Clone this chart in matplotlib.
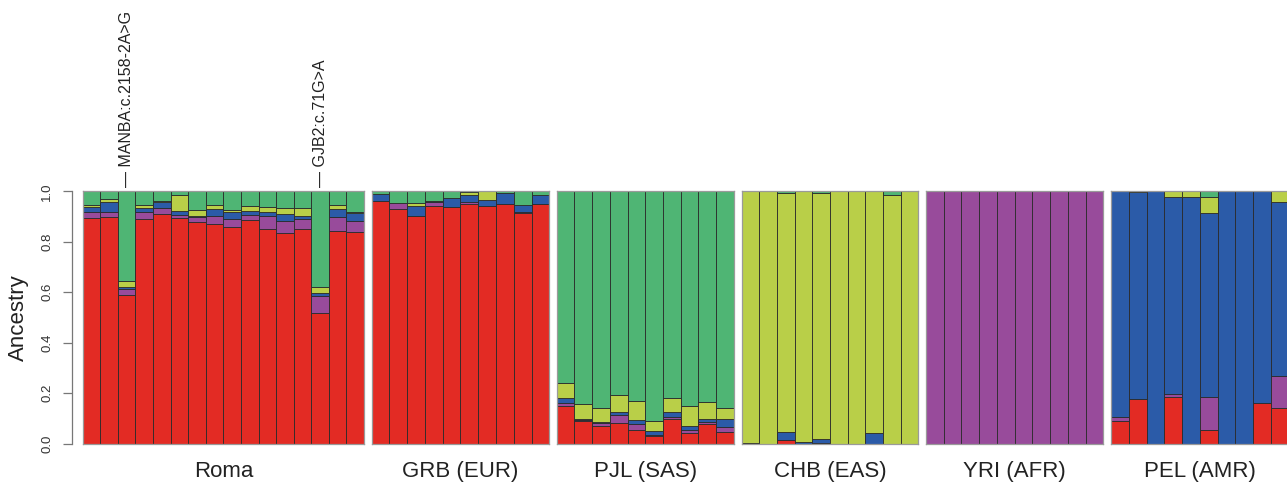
import matplotlib
matplotlib.use("Agg")
import matplotlib.pyplot as plt

plt.rcParams['font.family'] = ['Liberation Sans', 'DejaVu Sans']

# ancestry components, bottom to top
comp_colors = ['#E32B24', '#984B9B', '#2B5BA8', '#B9CF48', '#4FB574']

# cumulative tops of red, purple, blue, yellow; green fills up to 1.0
roma = [
    [0.893, 0.918, 0.937, 0.947],
    [0.897, 0.919, 0.959, 0.970],
    [0.590, 0.612, 0.622, 0.643],
    [0.890, 0.918, 0.933, 0.947],
    [0.909, 0.934, 0.956, 0.960],
    [0.896, 0.907, 0.922, 0.985],
    [0.877, 0.898, 0.901, 0.925],
    [0.872, 0.902, 0.931, 0.945],
    [0.857, 0.892, 0.919, 0.926],
    [0.885, 0.905, 0.923, 0.942],
    [0.849, 0.904, 0.918, 0.939],
    [0.836, 0.881, 0.909, 0.934],
    [0.849, 0.892, 0.904, 0.935],
    [0.517, 0.587, 0.596, 0.622],
    [0.843, 0.900, 0.929, 0.946],
    [0.839, 0.884, 0.915, 0.918],
]
grb = [
    [0.963, 0.963, 0.989, 0.989],
    [0.929, 0.952, 0.952, 0.952],
    [0.902, 0.902, 0.942, 0.952],
    [0.943, 0.956, 0.962, 0.962],
    [0.939, 0.939, 0.972, 0.972],
    [0.950, 0.956, 0.985, 0.998],
    [0.942, 0.942, 0.966, 1.000],
    [0.948, 0.948, 0.992, 0.992],
    [0.913, 0.919, 0.946, 0.946],
    [0.948, 0.948, 0.985, 0.985],
]
pjl = [
    [0.148, 0.160, 0.180, 0.239],
    [0.091, 0.094, 0.096, 0.157],
    [0.071, 0.081, 0.085, 0.140],
    [0.082, 0.114, 0.124, 0.193],
    [0.054, 0.077, 0.094, 0.168],
    [0.032, 0.033, 0.049, 0.091],
    [0.098, 0.106, 0.124, 0.180],
    [0.041, 0.053, 0.070, 0.148],
    [0.079, 0.087, 0.099, 0.164],
    [0.048, 0.065, 0.098, 0.140],
]
chb = [
    [0.000, 0.000, 0.003, 1.000],
    [0.000, 0.000, 0.000, 1.000],
    [0.015, 0.015, 0.045, 0.992],
    [0.000, 0.000, 0.008, 1.000],
    [0.004, 0.004, 0.020, 0.992],
    [0.000, 0.000, 0.000, 1.000],
    [0.000, 0.000, 0.000, 1.000],
    [0.000, 0.000, 0.042, 1.000],
    [0.000, 0.000, 0.000, 0.985],
    [0.000, 0.000, 0.000, 1.000],
]
yri = [[0.0, 1.0, 1.0, 1.0]] * 10
pel = [
    [0.090, 0.106, 1.000, 1.000],
    [0.176, 0.176, 0.996, 1.000],
    [0.000, 0.000, 1.000, 1.000],
    [0.186, 0.196, 0.976, 1.000],
    [0.000, 0.000, 0.979, 1.000],
    [0.054, 0.184, 0.913, 0.979],
    [0.000, 0.000, 1.000, 1.000],
    [0.000, 0.000, 1.000, 1.000],
    [0.160, 0.160, 1.000, 1.000],
    [0.141, 0.269, 0.956, 1.000],
]

pop_names = ['Roma', 'GRB (EUR)', 'PJL (SAS)', 'CHB (EAS)', 'YRI (AFR)', 'PEL (AMR)']
pop_data = [roma, grb, pjl, chb, yri, pel]

# marked Roma individuals (bar index) and their variants
marks = [(2, 'MANBA:c.2158-2A>G'), (13, 'GJB2:c.71G>A')]

W, H = 1287, 482
fig = plt.figure(figsize=(W / 100, H / 100), dpi=100)

y_top, y_bot = 191.3, 443.7
ax_b = (H - y_bot) / H
ax_h = (y_bot - y_top) / H
# panel left / right edges in pixels
panel_px = [(82.7, 364.0), (371.7, 549.3), (556.7, 733.7),
            (741.7, 918.3), (926.0, 1103.3), (1111.0, 1288.5)]

axes = []
for name, rows, (xl, xr) in zip(pop_names, pop_data, panel_px):
    n = len(rows)
    ax = fig.add_axes([xl / W, ax_b, (xr - xl) / W, ax_h])
    for i, r in enumerate(rows):
        tops = list(r) + [1.0]
        prev = 0.0
        for c, t in enumerate(tops):
            h = t - prev
            if h > 0:
                ax.bar(i, h, bottom=prev, width=1.0, align='edge',
                       color=comp_colors[c], edgecolor='#2a2a2a', linewidth=0.6)
            prev = t
    ax.set_xlim(0, n)
    ax.set_ylim(0, 1)
    ax.set_xticks([])
    ax.set_yticks([])
    for s in ax.spines.values():
        s.set_color('#9a9a9a')
        s.set_linewidth(0.9)
    ax.annotate(name, xy=(0.5, 0), xycoords='axes fraction',
                xytext=(0, -24), textcoords='offset points',
                ha='center', va='baseline', fontsize=16, color='#222222')
    axes.append(ax)

# variant labels above the Roma panel
for idx, lab in marks:
    axes[0].annotate('\u2014 ' + lab, xy=(idx + 0.5, 1.0), xycoords='data',
                     xytext=(0, 3), textcoords='offset points',
                     rotation=90, ha='center', va='bottom',
                     fontsize=11.5, color='#222222', annotation_clip=False)

# y axis
ay = fig.add_axes([72 / W, ax_b, 0.0005, ax_h])
ay.set_ylim(0, 1)
ay.set_xticks([])
for s in ['top', 'right', 'bottom']:
    ay.spines[s].set_visible(False)
ay.spines['left'].set_color('#777777')
ay.spines['left'].set_linewidth(0.9)
ay.patch.set_visible(False)
ay.set_yticks([0.0, 0.2, 0.4, 0.6, 0.8, 1.0])
ay.set_yticklabels(['0.0', '0.2', '0.4', '0.6', '0.8', '1.0'],
                   rotation=90, va='center', fontsize=9.5, color='#333333')
ay.tick_params(axis='y', length=6.5, width=0.9, color='#777777', pad=7)

fig.text(18 / W, (H - (y_top + y_bot) / 2) / H, 'Ancestry', rotation=90,
         ha='center', va='center', fontsize=16, color='#222222')

fig.savefig('out.png', dpi=100)
